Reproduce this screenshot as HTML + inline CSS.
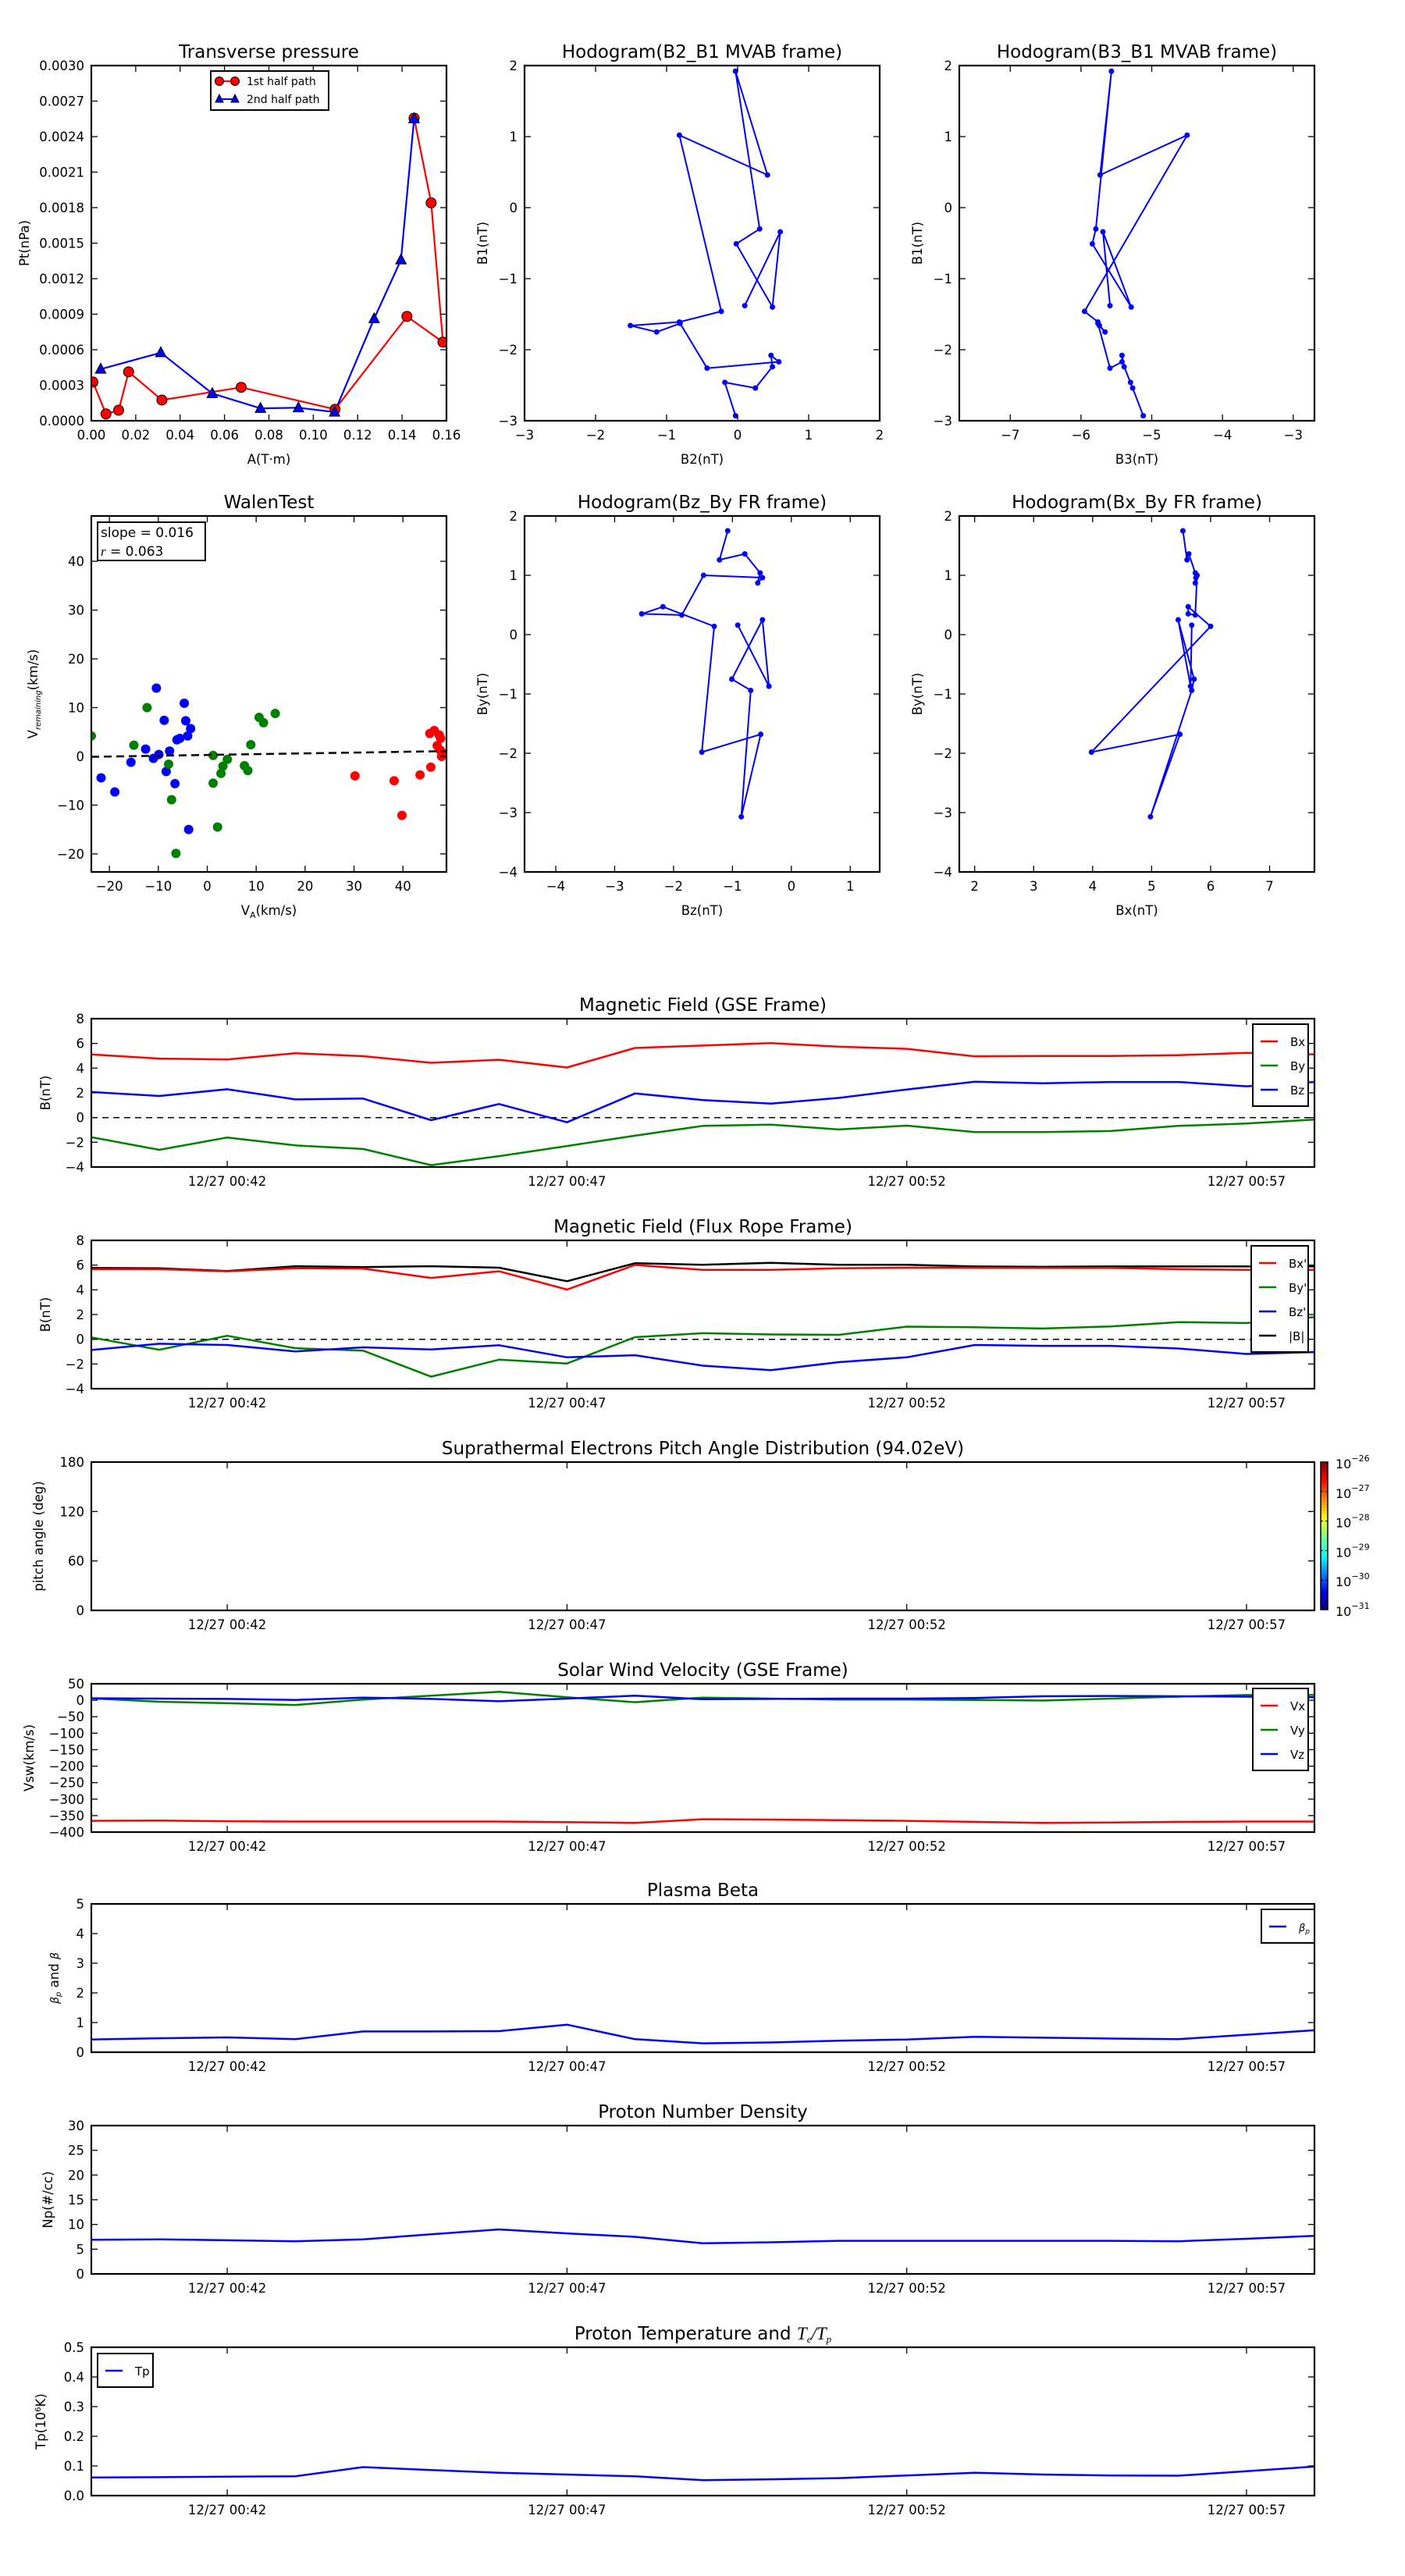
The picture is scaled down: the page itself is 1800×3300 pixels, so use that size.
<!DOCTYPE html>
<html><head><meta charset="utf-8">
<style>
html,body{margin:0;padding:0;background:#fff;}
svg{display:block;font-family:"DejaVu Sans","Liberation Sans",sans-serif;}
</style></head>
<body>
<svg id="fig" xmlns="http://www.w3.org/2000/svg" width="1800" height="3300" viewBox="0 0 1800 3300">
<rect width="1800" height="3300" fill="#fff"/>
</svg>
<script>
// ---------- DATA ----------
// Transverse pressure
const tpRedA = [0.0007,0.0066,0.0123,0.0168,0.0318,0.0675,0.1098,0.1422,0.1584,0.1531,0.1454];
const tpRedP = [0.000327,0.0000575,0.0000888,0.000413,0.000175,0.000282,0.0000967,0.000881,0.000664,0.001840,0.002556];
const tpBlueA = [0.0042,0.0313,0.0545,0.0762,0.0933,0.1096,0.1274,0.1395,0.1454];
const tpBlueP = [0.000436,0.000575,0.000230,0.000105,0.000110,0.0000732,0.000862,0.001359,0.002551];
// Hodogram MVAB
const mvB1 = [-2.93,-2.46,-2.54,-2.24,-2.08,-2.17,-2.26,-1.63,-1.75,-1.66,-1.61,-1.46,1.02,0.46,1.92,-0.30,-0.51,-1.40,-0.34,-1.38];
const mvB2 = [-0.03,-0.18,0.25,0.49,0.47,0.58,-0.43,-0.81,-1.14,-1.51,-0.82,-0.23,-0.82,0.42,-0.03,0.31,-0.02,0.49,0.60,0.10];
const mvB3 = [-5.12,-5.30,-5.27,-5.39,-5.42,-5.42,-5.59,-5.76,-5.66,-5.74,-5.76,-5.95,-4.50,-5.73,-5.57,-5.79,-5.84,-5.29,-5.69,-5.59];
// Hodogram FR frame (time ordered)
const frBy = [0.16,-0.87,0.25,-0.75,-0.94,-3.07,-1.68,-1.98,0.14,0.47,0.35,0.33,1.00,0.96,0.87,1.04,1.36,1.26,1.75];
const frBz = [-0.91,-0.38,-0.49,-1.01,-0.69,-0.85,-0.52,-1.52,-1.31,-2.18,-2.54,-1.86,-1.49,-0.49,-0.57,-0.53,-0.79,-1.22,-1.08];
const frBx = [5.68,5.66,5.45,5.72,5.68,4.98,5.48,3.98,6.00,5.62,5.62,5.74,5.77,5.75,5.74,5.74,5.63,5.60,5.53];
// Walen test
const walBlueX = [-10.4,-4.7,-8.8,-4.4,-3.4,-4.0,-5.6,-6.2,-12.6,-9.9,-7.7,-11.0,-15.6,-8.4,-21.7,-18.9,-6.6,-3.8];
const walBlueY = [14.0,10.9,7.4,7.3,5.7,4.2,3.7,3.4,1.5,0.4,1.1,-0.4,-1.2,-3.1,-4.4,-7.3,-5.6,-15.0];
const walGreenX = [-23.7,-12.3,-15.0,10.6,11.5,13.9,8.9,1.2,4.1,-7.9,3.2,7.6,8.3,2.8,1.2,-7.3,2.1,-6.4];
const walGreenY = [4.2,10.0,2.3,8.0,6.9,8.8,2.4,0.2,-0.6,-1.6,-2.0,-1.9,-2.9,-3.5,-5.5,-8.9,-14.5,-19.9];
const walRedX = [30.2,38.2,43.5,39.8,45.7,45.5,46.4,47.4,47.7,47.0,48.1,47.6,47.9];
const walRedY = [-4.0,-5.0,-3.8,-12.1,-2.2,4.7,5.3,4.4,3.7,2.2,0.7,1.3,0.0];
const walSlope = 0.016, walIntercept = 0.3;
// Time series (minutes after 12/27 00:40)
const tMin = [0,1,2,3,4,5,6,7,8,9,10,11,12,13,14,15,16,17,18];
const timeTickVals = [2,7,12,17];
const timeTickLabels = ["12/27 00:42","12/27 00:47","12/27 00:52","12/27 00:57"];
const gseBx = [5.11,4.77,4.70,5.21,4.97,4.43,4.68,4.05,5.63,5.83,6.02,5.73,5.56,4.95,4.98,4.98,5.05,5.24,5.11];
const gseBy = [-1.59,-2.61,-1.61,-2.25,-2.54,-3.85,-3.12,-2.30,-1.47,-0.67,-0.57,-0.96,-0.65,-1.18,-1.18,-1.09,-0.67,-0.48,-0.16];
const gseBz = [2.07,1.75,2.29,1.47,1.54,-0.21,1.10,-0.38,1.95,1.42,1.13,1.59,2.27,2.90,2.78,2.88,2.88,2.53,2.88];
const frtBx = [5.67,5.67,5.50,5.74,5.72,4.96,5.50,4.02,6.01,5.62,5.62,5.74,5.79,5.79,5.77,5.77,5.67,5.62,5.62];
const frtBy = [0.15,-0.85,0.28,-0.72,-0.92,-3.03,-1.65,-1.96,0.17,0.49,0.39,0.36,1.02,0.97,0.87,1.04,1.39,1.31,1.80];
const frtBz = [-0.87,-0.36,-0.46,-0.99,-0.65,-0.82,-0.48,-1.46,-1.29,-2.14,-2.50,-1.85,-1.46,-0.46,-0.53,-0.53,-0.75,-1.19,-1.04];
const frtBt = [5.77,5.74,5.52,5.91,5.84,5.91,5.79,4.70,6.15,6.03,6.18,6.03,6.03,5.89,5.86,5.89,5.89,5.89,5.89];
const velVx = [-366,-365,-367,-368,-368,-368,-368,-370,-372,-361,-362,-364,-366,-369,-372,-371,-369,-368,-368];
const velVy = [5.5,-4.5,-9,-14.5,2,14,25.5,9,-6,8,5,2,2,1,-1,5,11,16,16];
const velVz = [6,5,4,1,8,4,-3,5,14,3,4,5,5,7,12,13,12,11,9];
const betaP = [0.43,0.47,0.50,0.44,0.70,0.70,0.71,0.93,0.44,0.30,0.33,0.39,0.43,0.52,0.49,0.46,0.44,0.59,0.74];
const densNp = [6.9,7.0,6.8,6.6,7.0,8.0,9.0,8.2,7.5,6.2,6.4,6.7,6.7,6.7,6.7,6.7,6.6,7.1,7.7];
const tempTp = [0.061,0.062,0.064,0.065,0.096,0.086,0.077,0.071,0.065,0.052,0.055,0.059,0.068,0.077,0.071,0.068,0.067,0.082,0.098];
const cbarExps = [-26,-27,-28,-29,-30,-31];

// ---------- HELPERS ----------
const NS="http://www.w3.org/2000/svg";
const fig=document.getElementById('fig');
function mk(tag,attrs,parent,text){const e=document.createElementNS(NS,tag);for(const k in attrs)e.setAttribute(k,attrs[k]);if(text!==undefined)e.textContent=text;(parent||fig).appendChild(e);return e;}
const RED="#ff0000",GREEN="#008000",BLUE="#0000ff";
function fmt(v,d){const s=Math.abs(v).toFixed(d);return (v<-1e-12?"\u2212":"")+s;}

function axes(o){
  const g=mk('g',{});
  
  
  const sx=v=>o.x+(v-o.xmin)/(o.xmax-o.xmin)*o.w;
  const sy=v=>o.y+o.h-(v-o.ymin)/(o.ymax-o.ymin)*o.h;
  const plot=mk('g',{},g);
  
  
  const cid='clip-'+o.name;
  const cp=mk('clipPath',{id:cid},g);mk('rect',{x:o.x,y:o.y,width:o.w,height:o.h},cp);
  plot.setAttribute('clip-path','url(#'+cid+')');
  // ticks
  const tl=8;
  o.xt.forEach((v,i)=>{const X=sx(v);
    mk('line',{x1:X,x2:X,y1:o.y+o.h,y2:o.y+o.h-tl,stroke:'#000','stroke-width':1.3},g);
    mk('line',{x1:X,x2:X,y1:o.y,y2:o.y+tl,stroke:'#000','stroke-width':1.3},g);
    const t=mk('text',{x:X,y:o.y+o.h+24,'text-anchor':'middle','font-size':16.5},g,o.xl[i]);
    
  });
  o.yt.forEach((v,i)=>{const Y=sy(v);
    mk('line',{x1:o.x,x2:o.x+tl,y1:Y,y2:Y,stroke:'#000','stroke-width':1.3},g);
    mk('line',{x1:o.x+o.w,x2:o.x+o.w-tl,y1:Y,y2:Y,stroke:'#000','stroke-width':1.3},g);
    const t=mk('text',{x:o.x-9,y:Y+6,'text-anchor':'end','font-size':16.5},g,o.yl[i]);
    
  });
  const fr=mk('rect',{x:o.x,y:o.y,width:o.w,height:o.h,fill:'none',stroke:'#000','stroke-width':2.2},g);
  
  if(o.title){const t=mk('text',{x:o.x+o.w/2,y:o.y-10,'text-anchor':'middle','font-size':23},g);t.innerHTML=o.title;
    }
  if(o.xlabel){const t=mk('text',{x:o.x+o.w/2,y:o.y+o.h+55,'text-anchor':'middle','font-size':16.5},g);t.innerHTML=o.xlabel;
    }
  if(o.ylabel){const cx=o.ylx,cy=o.y+o.h/2;const t=mk('text',{x:cx,y:cy,'text-anchor':'middle','font-size':16.5,transform:`rotate(-90 ${cx} ${cy})`},g);t.innerHTML=o.ylabel;
    }
  return {g,plot,sx,sy,o};
}
function line(ax,xs,ys,color,w,name,dash){
  const d=xs.map((x,i)=>(i?'L':'M')+ax.sx(x).toFixed(1)+' '+ax.sy(ys[i]).toFixed(1)).join(' ');
  const p=mk('path',{d,fill:'none',stroke:color,'stroke-width':w||2.2,'stroke-linejoin':'round'},ax.plot);
  if(dash)p.setAttribute('stroke-dasharray',dash);
  
  return p;
}
function dots(ax,xs,ys,color,r,name,stroke){
  xs.forEach((x,i)=>{const c=mk('circle',{cx:ax.sx(x),cy:ax.sy(ys[i]),r,fill:color},ax.plot);
    if(stroke){c.setAttribute('stroke',stroke);c.setAttribute('stroke-width',1);}
    });
}
function tris(ax,xs,ys,color,s,name){
  xs.forEach((x,i)=>{const X=ax.sx(x),Y=ax.sy(ys[i]);
    const p=mk('polygon',{points:`${X},${Y-s} ${X-s*0.9},${Y+s*0.7} ${X+s*0.9},${Y+s*0.7}`,fill:color,stroke:'#000','stroke-width':1},ax.plot);
    });
}
function rng(a,b,s){const r=[];for(let v=a;v<=b+1e-9;v+=s)r.push(+v.toFixed(6));return r;}
function legend(x,y,w,entries,name,fs){
  const h=entries.length*(fs?31:32)+12;
  const g=mk('g',{});
  mk('rect',{x,y,width:w,height:h,fill:'#fff',stroke:'#000','stroke-width':2},g);
  entries.forEach((e,i)=>{const Y=y+22+i*(fs?31:32);
    const l=mk('line',{x1:x+10,x2:x+32,y1:Y,y2:Y,stroke:e[1],'stroke-width':2.5},g);
    
    const t=mk('text',{x:x+48,y:Y+6,'font-size':fs||16},g);t.innerHTML=e[0];
    });
  return g;
}

// ---------- ROW 1 ----------
const C1=[117,672,1229], CW=455;
{const ax=axes({name:'transverse-pressure',x:C1[0],y:84,w:CW,h:455,xmin:0,xmax:0.16,ymin:0,ymax:0.003,
  xt:rng(0,0.16,0.02),xl:rng(0,0.16,0.02).map(v=>v.toFixed(2)),yt:rng(0,0.003,0.0003),yl:rng(0,0.003,0.0003).map(v=>v.toFixed(4)),
  title:'Transverse pressure',xlabel:'A(T·m)',ylabel:'Pt(nPa)',ylx:37});
 line(ax,tpRedA,tpRedP,RED,2.2,'first-half-path-line');
 line(ax,tpBlueA,tpBlueP,BLUE,2.2,'second-half-path-line');
 dots(ax,tpRedA,tpRedP,RED,6.5,'first-half-point','#000');
 tris(ax,tpBlueA,tpBlueP,BLUE,7.5,'second-half-point');
 const lg=mk('g',{});
 mk('rect',{x:270,y:91,width:151,height:50,fill:'#fff',stroke:'#000','stroke-width':2},lg);
 mk('line',{x1:281,x2:301,y1:104,y2:104,stroke:RED,'stroke-width':2},lg);
 mk('circle',{cx:281,cy:104,r:5.5,fill:RED,stroke:'#000'},lg);mk('circle',{cx:301,cy:104,r:5.5,fill:RED,stroke:'#000'},lg);
 const t1=mk('text',{x:316,y:109,'font-size':14},lg,'1st half path');
 mk('line',{x1:281,x2:301,y1:127,y2:127,stroke:BLUE,'stroke-width':2},lg);
 mk('polygon',{points:'281,121 276,131 286,131',fill:BLUE,stroke:'#000'},lg);mk('polygon',{points:'301,121 296,131 306,131',fill:BLUE,stroke:'#000'},lg);
 const t2=mk('text',{x:316,y:132,'font-size':14},lg,'2nd half path');
}
{const ax=axes({name:'hodogram-b2-b1',x:C1[1],y:84,w:CW,h:455,xmin:-3,xmax:2,ymin:-3,ymax:2,
  xt:rng(-3,2,1),xl:rng(-3,2,1).map(v=>fmt(v,0)),yt:rng(-3,2,1),yl:rng(-3,2,1).map(v=>fmt(v,0)),
  title:'Hodogram(B2_B1 MVAB frame)',xlabel:'B2(nT)',ylabel:'B1(nT)',ylx:624});
 line(ax,mvB2,mvB1,BLUE,2,'hodogram-path');dots(ax,mvB2,mvB1,BLUE,3.5,'hodogram-point');}
{const ax=axes({name:'hodogram-b3-b1',x:C1[2],y:84,w:CW,h:455,xmin:-7.72,xmax:-2.70,ymin:-3,ymax:2,
  xt:rng(-7,-3,1),xl:rng(-7,-3,1).map(v=>fmt(v,0)),yt:rng(-3,2,1),yl:rng(-3,2,1).map(v=>fmt(v,0)),
  title:'Hodogram(B3_B1 MVAB frame)',xlabel:'B3(nT)',ylabel:'B1(nT)',ylx:1181});
 line(ax,mvB3,mvB1,BLUE,2,'hodogram-path');dots(ax,mvB3,mvB1,BLUE,3.5,'hodogram-point');}

// ---------- ROW 2 ----------
{const ax=axes({name:'walen-test',x:C1[0],y:661,w:CW,h:456,xmin:-23.7,xmax:48.9,ymin:-23.7,ymax:49.3,
  xt:rng(-20,40,10),xl:rng(-20,40,10).map(v=>fmt(v,0)),yt:rng(-20,40,10),yl:rng(-20,40,10).map(v=>fmt(v,0)),
  title:'WalenTest',xlabel:'V<tspan font-size="11" dy="4">A</tspan><tspan dy="-4">(km/s)</tspan>',
  ylabel:'V<tspan font-size="10" font-style="italic" dy="4">remaining</tspan><tspan dy="-4">(km/s)</tspan>',ylx:48});
 dots(ax,walBlueX,walBlueY,BLUE,6,'walen-point-blue');
 dots(ax,walGreenX,walGreenY,GREEN,6,'walen-point-green');
 dots(ax,walRedX,walRedY,RED,6,'walen-point-red');
 const fx=[ax.o.xmin,ax.o.xmax];
 line(ax,fx,fx.map(v=>walSlope*v+walIntercept),'#000',2.5,'walen-fit-line','10,6');
 const bg=mk('g',{});
 mk('rect',{x:125,y:669,width:138,height:49,fill:'#fff',stroke:'#000','stroke-width':2},bg);
 mk('text',{x:129,y:688,'font-size':17},bg,'slope = 0.016');
 const r=mk('text',{x:129,y:712,'font-size':17},bg);r.innerHTML='<tspan font-style="italic" font-family="Liberation Serif,serif">r</tspan> = 0.063';
}
{const ax=axes({name:'hodogram-bz-by',x:C1[1],y:661,w:CW,h:456,xmin:-4.53,xmax:1.5,ymin:-4,ymax:2,
  xt:rng(-4,1,1),xl:rng(-4,1,1).map(v=>fmt(v,0)),yt:rng(-4,2,1),yl:rng(-4,2,1).map(v=>fmt(v,0)),
  title:'Hodogram(Bz_By FR frame)',xlabel:'Bz(nT)',ylabel:'By(nT)',ylx:624});
 line(ax,frBz,frBy,BLUE,2,'hodogram-path');dots(ax,frBz,frBy,BLUE,3.5,'hodogram-point');}
{const ax=axes({name:'hodogram-bx-by',x:C1[2],y:661,w:CW,h:456,xmin:1.74,xmax:7.76,ymin:-4,ymax:2,
  xt:rng(2,7,1),xl:rng(2,7,1).map(v=>fmt(v,0)),yt:rng(-4,2,1),yl:rng(-4,2,1).map(v=>fmt(v,0)),
  title:'Hodogram(Bx_By FR frame)',xlabel:'Bx(nT)',ylabel:'By(nT)',ylx:1181});
 line(ax,frBx,frBy,BLUE,2,'hodogram-path');dots(ax,frBx,frBy,BLUE,3.5,'hodogram-point');}

// ---------- TIME SERIES ----------
const TX=117,TW=1567,TH=190;
function ts(name,top,ymin,ymax,yt,yl,title,ylabel,ylx){
  return axes({name,x:TX,y:top,w:TW,h:TH,xmin:0,xmax:18,ymin,ymax,xt:timeTickVals,xl:timeTickLabels,yt,yl,title,ylabel,ylx});
}
{const ax=ts('magnetic-field-gse',1305,-4,8,rng(-4,8,2),rng(-4,8,2).map(v=>fmt(v,0)),'Magnetic Field (GSE Frame)','B(nT)',64);
 line(ax,[0,18],[0,0],'#000',1.5,'zero-line','8,6');
 line(ax,tMin,gseBx,RED,2.5,'bx-line');line(ax,tMin,gseBy,GREEN,2.5,'by-line');line(ax,tMin,gseBz,BLUE,2.5,'bz-line');
 legend(1605,1312,71,[['Bx',RED],['By',GREEN],['Bz',BLUE]],'gse-legend',15);}
{const ax=ts('magnetic-field-flux-rope',1589,-4,8,rng(-4,8,2),rng(-4,8,2).map(v=>fmt(v,0)),'Magnetic Field (Flux Rope Frame)','B(nT)',64);
 line(ax,[0,18],[0,0],'#000',1.5,'zero-line','8,6');
 line(ax,tMin,frtBt,'#000',2.5,'btotal-line');line(ax,tMin,frtBx,RED,2.5,'bx-prime-line');
 line(ax,tMin,frtBy,GREEN,2.5,'by-prime-line');line(ax,tMin,frtBz,BLUE,2.5,'bz-prime-line');
 legend(1603,1596,73,[["Bx'",RED],["By'",GREEN],["Bz'",BLUE],['|B|','#000']],'flux-rope-legend',15);}
{const ax=ts('pitch-angle-distribution',1873,0,180,[0,60,120,180],['0','60','120','180'],'Suprathermal Electrons Pitch Angle Distribution (94.02eV)','pitch angle (deg)',55);
 const defs=mk('defs',{});const lg=mk('linearGradient',{id:'jet',x1:0,y1:1,x2:0,y2:0},defs);
 [['0','#00007f'],['0.12','#0000ff'],['0.36','#00ffff'],['0.5','#7fff7f'],['0.62','#ffff00'],['0.88','#ff0000'],['1','#7f0000']].forEach(s=>mk('stop',{offset:s[0],'stop-color':s[1]},lg));
 const cb=mk('rect',{x:1692,y:1873,width:9,height:189,fill:'url(#jet)',stroke:'#000','stroke-width':1.5});
 
 cbarExps.forEach((e,i)=>{const Y=1873+i*189/5;
   mk('line',{x1:1692,x2:1695,y1:Y,y2:Y,stroke:'#000'});mk('line',{x1:1698,x2:1701,y1:Y,y2:Y,stroke:'#000'});
   const t=mk('text',{x:1711,y:Y+8,'font-size':16});t.innerHTML='10<tspan font-size="11" dy="-9">'+fmt(e,0)+'</tspan>';
   });}
{const ax=ts('solar-wind-velocity',2157,-400,50,rng(-400,50,50),rng(-400,50,50).map(v=>fmt(v,0)),'Solar Wind Velocity (GSE Frame)','Vsw(km/s)',43);
 line(ax,tMin,velVx,RED,2.5,'vx-line');line(ax,tMin,velVy,GREEN,2.5,'vy-line');line(ax,tMin,velVz,BLUE,2.5,'vz-line');
 legend(1605,2163,71,[['Vx',RED],['Vy',GREEN],['Vz',BLUE]],'velocity-legend',15);}
{const ax=ts('plasma-beta',2439,0,5,rng(0,5,1),rng(0,5,1).map(v=>fmt(v,0)),'Plasma Beta','<tspan font-style="italic" font-size="14">β<tspan font-size="10" dy="3">p</tspan></tspan><tspan dy="-3"> and </tspan><tspan font-style="italic" font-size="14">β</tspan>',75);
 line(ax,tMin,betaP,BLUE,2.5,'beta-p-line');
 legend(1616,2446,68,[['<tspan font-style="italic" font-size="13">β<tspan font-size="9" dy="3">p</tspan></tspan>',BLUE]],'beta-legend',14);
}
{const ax=ts('proton-number-density',2723,0,30,rng(0,30,5),rng(0,30,5).map(v=>fmt(v,0)),'Proton Number Density','Np(#/cc)',67);
 line(ax,tMin,densNp,BLUE,2.5,'np-line');}
{const ax=ts('proton-temperature',3007,0,0.5,rng(0,0.5,0.1),rng(0,0.5,0.1).map(v=>v.toFixed(1)),'Proton Temperature and <tspan font-style="italic" font-family="Liberation Serif,serif">T<tspan font-size="13" dy="4">e</tspan><tspan dy="-4">/T</tspan><tspan font-size="13" dy="4">p</tspan></tspan>','Tp(10<tspan font-size="10" dy="-6">6</tspan><tspan dy="6">K)</tspan>',58);
 line(ax,tMin,tempTp,BLUE,2.5,'tp-line');
 legend(125,3015,71,[['Tp',BLUE]],'tp-legend',15);}
</script>
</body></html>
